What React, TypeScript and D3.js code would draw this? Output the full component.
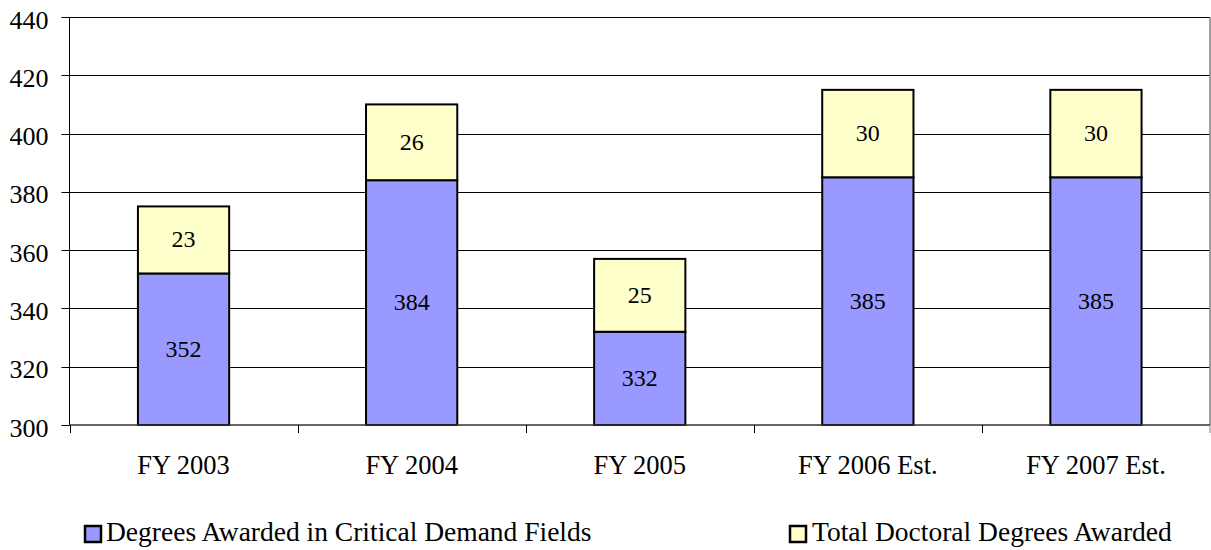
import React from "react";
import * as d3 from "d3";

const categories = ["FY 2003", "FY 2004", "FY 2005", "FY 2006 Est.", "FY 2007 Est."];
const criticalDemand = [352, 384, 332, 385, 385];
const totalDoctoral = [23, 26, 25, 30, 30];
const yTicks = [300, 320, 340, 360, 380, 400, 420, 440];
const seriesNames = ["Degrees Awarded in Critical Demand Fields", "Total Doctoral Degrees Awarded"];
const colors = ["#9999FF", "#FFFFCC"];

const W = 1211, H = 550;
const left = 69.5, right = 1210, top = 17, bottom = 425;
const font = "Liberation Serif, Tinos, Times New Roman, DejaVu Serif, serif";

export default function App() {
  const x = d3.scaleBand<string>().domain(categories).range([left, right]).paddingInner(0.6).paddingOuter(0.3);
  const xOuter = d3.scaleBand<string>().domain(categories).range([left, right]);
  const y = d3.scaleLinear().domain([300, 440]).range([bottom, top]);

  return (
    <svg width={W} height={H} fontFamily={font} style={{ position: "absolute", left: 0, top: 0 }}>
      <rect x={0} y={0} width={W} height={H} fill="#fff" />
      {yTicks.map((t) => (
        <g key={t}>
          {t > 300 && <line x1={left} x2={right} y1={Math.round(y(t)) + 0.5} y2={Math.round(y(t)) + 0.5} stroke="#000" strokeWidth={1} />}
          <line x1={left - 8} x2={left} y1={Math.round(y(t)) + 0.5} y2={Math.round(y(t)) + 0.5} stroke="#000" strokeWidth={1} />
          <text x={48.5} y={y(t) + 11.5} textAnchor="end" fontSize={26} fontFamily={font} fill="#000">{t}</text>
        </g>
      ))}
      <line x1={right} x2={right} y1={top} y2={bottom} stroke="#808080" strokeWidth={1.5} />
      <line x1={left} x2={left} y1={top} y2={bottom} stroke="#000" strokeWidth={1} />
      {categories.map((c, i) => {
        const bx = x(c)!;
        const bw = x.bandwidth();
        const y0 = y(300), y1 = y(criticalDemand[i]), y2 = y(criticalDemand[i] + totalDoctoral[i]);
        return (
          <g key={c}>
            <rect x={bx} y={y1} width={bw} height={y0 - y1} fill={colors[0]} stroke="#000" strokeWidth={2} />
            <rect x={bx} y={y2} width={bw} height={y1 - y2} fill={colors[1]} stroke="#000" strokeWidth={2} />
            <text x={bx + bw / 2} y={(y0 + y1) / 2 + 7.5} textAnchor="middle" fontSize={24} fontFamily={font}>{criticalDemand[i]}</text>
            <text x={bx + bw / 2} y={(y1 + y2) / 2 + 7.5} textAnchor="middle" fontSize={24} fontFamily={font}>{totalDoctoral[i]}</text>
            <text x={xOuter(c)! + xOuter.bandwidth() / 2} y={474} textAnchor="middle" fontSize={26.5} fontFamily={font}>{c}</text>
          </g>
        );
      })}
      <line x1={left} x2={right} y1={bottom} y2={bottom} stroke="#333" strokeWidth={1.5} />
      {categories.map((c, i) => (
        <line key={"t" + i} x1={Math.round(xOuter(c)!) + 0.5} x2={Math.round(xOuter(c)!) + 0.5} y1={bottom} y2={bottom + 8} stroke="#000" />
      ))}
      <line x1={right} x2={right} y1={bottom} y2={bottom + 8} stroke="#808080" />
      {[{ sx: 85, tx: 106 }, { sx: 790, tx: 812 }].map((p, i) => (
        <g key={"lg" + i}>
          <rect x={p.sx} y={526} width={16} height={16} fill={colors[i]} stroke="#000" strokeWidth={2.5} />
          <text x={p.tx} y={540.5} fontSize={27.5} fontFamily={font}>{seriesNames[i]}</text>
        </g>
      ))}
    </svg>
  );
}
